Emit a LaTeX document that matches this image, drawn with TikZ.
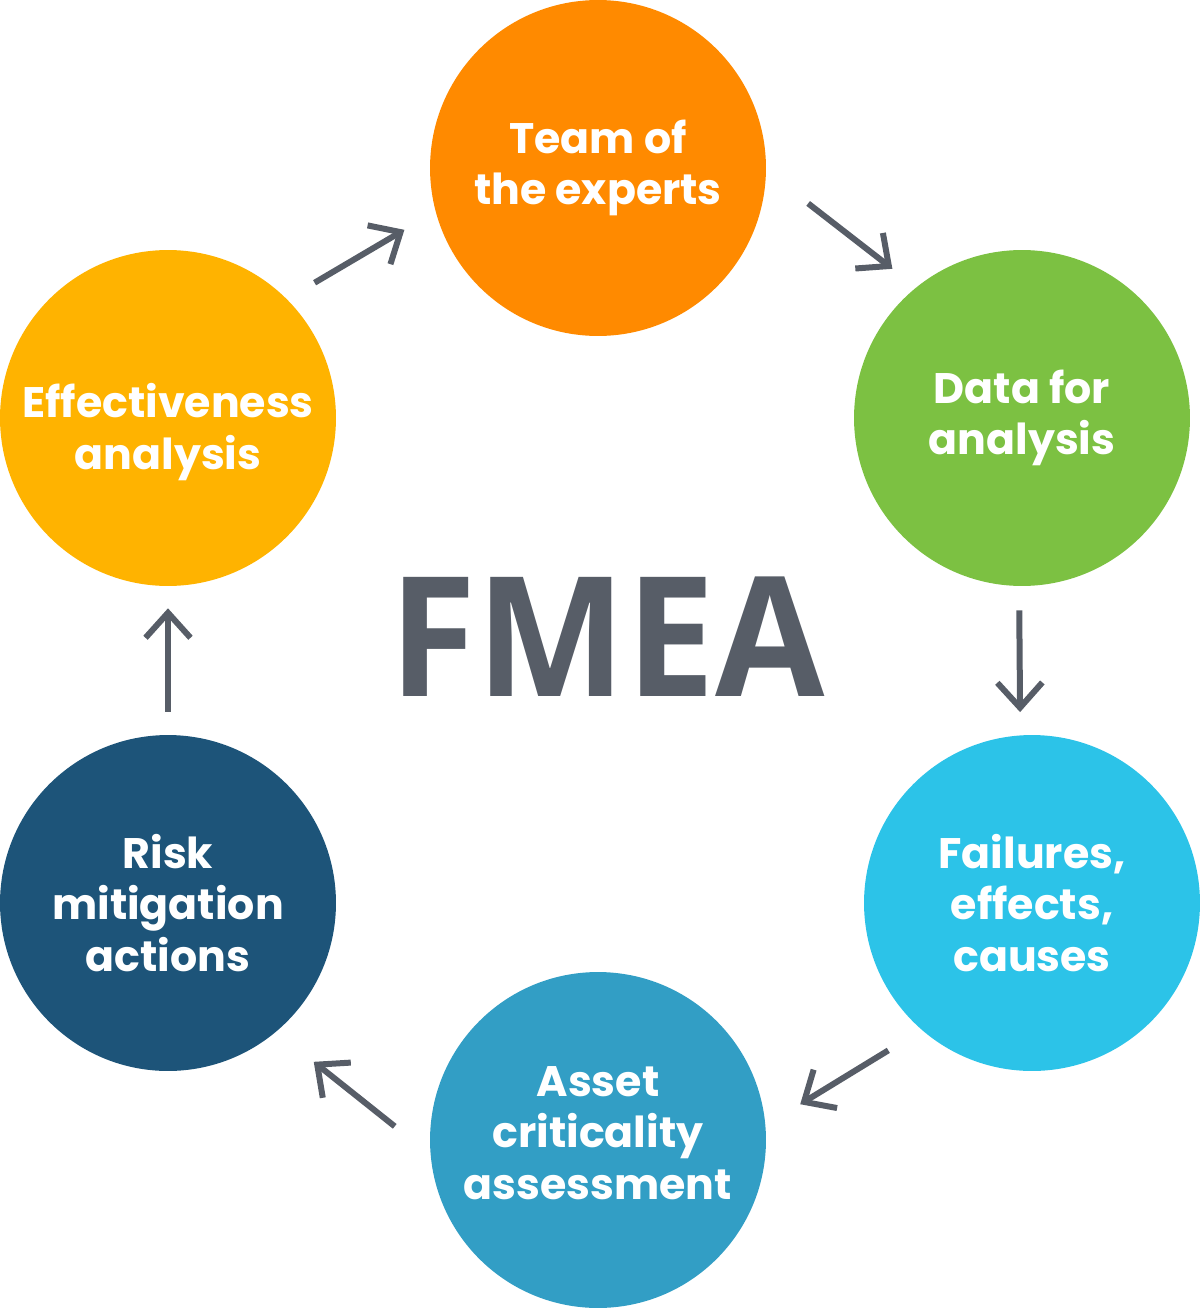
\documentclass[tikz,border=0pt]{standalone}
\usepackage{fontspec}
\setmainfont{Poppins}
\newfontfamily\titlefont{Open Sans}[FakeStretch=0.95]
\usetikzlibrary{arrows.meta}

\definecolor{teamorange}{HTML}{FF8A00}
\definecolor{datagreen}{HTML}{7CC142}
\definecolor{failblue}{HTML}{2CC3E8}
\definecolor{assetblue}{HTML}{329EC5}
\definecolor{riskblue}{HTML}{1D5479}
\definecolor{effyellow}{HTML}{FFB300}
\definecolor{arrowgray}{HTML}{575D67}

\begin{document}
\begin{tikzpicture}
      [ x=0.02cm, y=-0.02cm,
        stage/.style={circle, minimum size=6.72cm, inner sep=0pt, text=white,
                      align=center, font=\bfseries\fontsize{24.3}{29.5}\selectfont},
        flow/.style={draw=arrowgray, line width=0.12cm,
                     -{Straight Barb[length=0.5cm, width=0.9cm]}}
      ]
      \useasboundingbox (0,0) rectangle (1200,1308);

      \node[stage, fill=teamorange] (team)  at (598,168)  {Team of\\the experts};
      \node[stage, fill=datagreen]  (data)  at (1022,418) {Data for\\analysis};
      \node[stage, fill=failblue]   (fail)  at (1032,903) {Failures,\\effects,\\causes};
      \node[stage, fill=assetblue]  (asset) at (598,1140) {Asset\\criticality\\assessment\rule[-8pt]{0pt}{8pt}};
      \node[stage, fill=riskblue]   (risk)  at (168,903)  {Risk\\mitigation\\actions};
      \node[stage, fill=effyellow]  (eff)   at (168,418)  {\rule{0pt}{35pt}Effectiveness\\analysis};

      \node[text=arrowgray, font=\titlefont\bfseries\fontsize{95}{95}\selectfont]
           (fmea) at (607,637) {FMEA};

      % cycle of arrows
      \draw[flow, shorten <=0.64cm, shorten >=0.72cm] (eff.45)   -- (team.195);
      \draw[flow, shorten <=1.06cm, shorten >=0.6cm]  (team.-1)  -- (data.129);
      \draw[flow, shorten <=0.48cm, shorten >=0.46cm] (data.-91) -- (fail.94);
      \draw[flow, shorten <=0.78cm, shorten >=0.81cm] (fail.229) -- (asset.5.5);
      \draw[flow, shorten <=0.91cm, shorten >=0.96cm] (asset.185.5) -- (risk.-50.8);
      \draw[flow, shorten <=0.46cm, shorten >=0.44cm] (risk.north) -- (eff.south);
\end{tikzpicture}
\end{document}
